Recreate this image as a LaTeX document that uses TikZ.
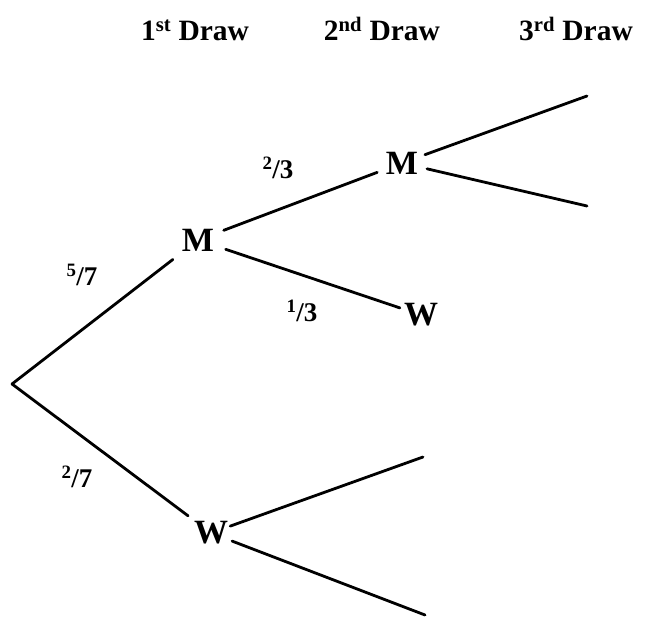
\documentclass[tikz,border=0pt]{standalone}
\usepackage{fontspec}
\setmainfont{Liberation Serif}
\begin{document}
\begin{tikzpicture}[x=1pt,y=-1pt,
  lbl/.style={font=\fontsize{34}{34}\selectfont\bfseries, inner sep=2pt},
  hdr/.style={font=\fontsize{29.5}{29.5}\selectfont\bfseries, anchor=base, inner sep=0pt},
  frac/.style={font=\fontsize{27}{27}\selectfont\bfseries, inner sep=0pt},
  br/.style={line width=2.8pt, line cap=round}]
\useasboundingbox (0,0) rectangle (650,620);
% headers
\node[hdr] (h1) at (195,41) {1\textsuperscript{st} Draw};
\node[hdr] (h2) at (382,41) {2\textsuperscript{nd} Draw};
\node[hdr] (h3) at (576,41) {3\textsuperscript{rd} Draw};
% nodes
\coordinate (root) at (12,384);
\node[lbl] (m1) at (198,240) {M};
\node[lbl] (m2) at (402,163) {M};
\node[lbl] (w1) at (421,315) {W};
\node[lbl] (w2) at (211,533) {W};
\coordinate (e1) at (587,96);
\coordinate (e2) at (587,206);
\coordinate (e3) at (423,457);
\coordinate (e4) at (425,615);
% branches
\draw[br, shorten >=10pt] (root) -- (m1);
\draw[br, shorten >=6pt] (root) -- (w2);
\draw[br, shorten <=8pt, shorten >=7pt] (m1) -- (m2);
\draw[br, shorten <=10pt, shorten >=2pt] (m1) -- (w1);
\draw[br, shorten <=5pt] (m2) -- (e1);
\draw[br, shorten <=7pt] (m2) -- (e2);
\draw[br] (w2) -- (e3);
\draw[br, shorten <=2pt] (w2) -- (e4);
% probabilities
\node[frac] (p1) at (82,275) {\textsuperscript{5}/7};
\node[frac] (p2) at (77,477) {\textsuperscript{2}/7};
\node[frac] (p3) at (278,168) {\textsuperscript{2}/3};
\node[frac] (p4) at (302,311) {\textsuperscript{1}/3};
\end{tikzpicture}
\end{document}
